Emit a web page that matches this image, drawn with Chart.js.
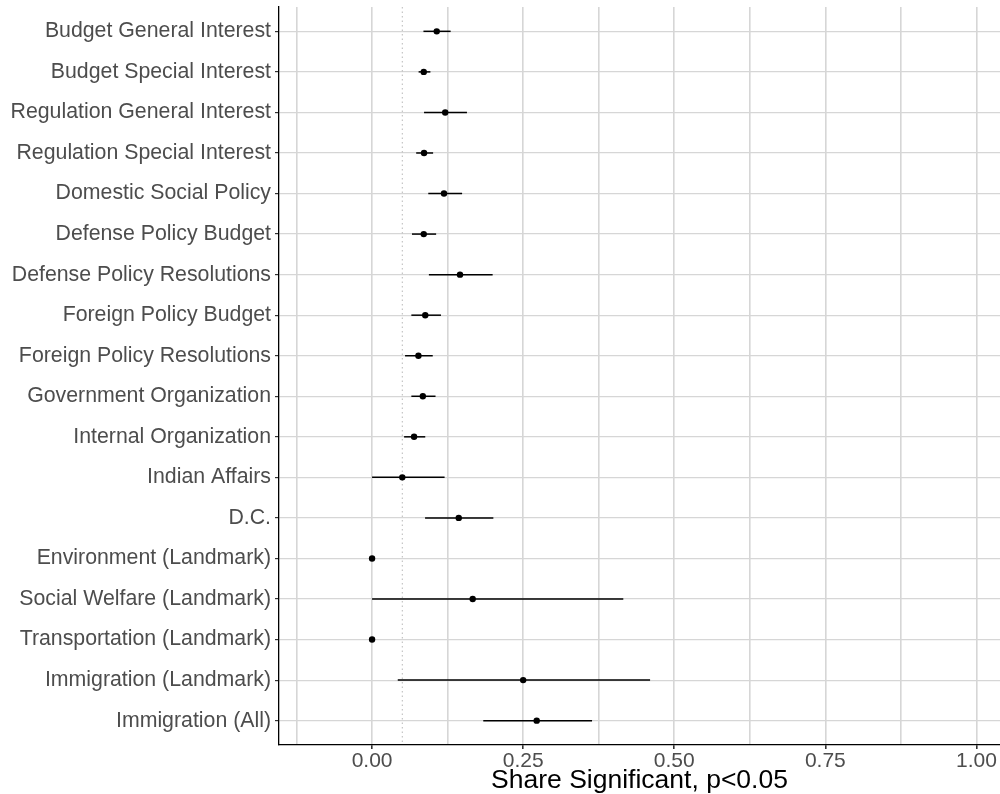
<!DOCTYPE html>
<html>
<head>
<meta charset="utf-8">
<script src="https://cdn.jsdelivr.net/npm/chart.js@4"></script>
<style>
  body { margin: 0; background: #fff; }
  #wrap { width: 1000px; height: 794px; }
</style>
</head>
<body>
<div id="wrap"><canvas id="myChart"></canvas></div>
<script>
const categories = [
  'Budget General Interest', 'Budget Special Interest', 'Regulation General Interest',
  'Regulation Special Interest', 'Domestic Social Policy', 'Defense Policy Budget',
  'Defense Policy Resolutions', 'Foreign Policy Budget', 'Foreign Policy Resolutions',
  'Government Organization', 'Internal Organization', 'Indian Affairs', 'D.C.',
  'Environment (Landmark)', 'Social Welfare (Landmark)', 'Transportation (Landmark)',
  'Immigration (Landmark)', 'Immigration (All)'
];
const share = [0.107, 0.0855, 0.121, 0.086, 0.119, 0.0855, 0.1455, 0.088, 0.0767,
  0.084, 0.0695, 0.05, 0.1434, 0, 0.1665, 0, 0.25, 0.2724];
const lower = [0.085, 0.077, 0.086, 0.073, 0.093, 0.066, 0.094, 0.065, 0.0546,
  0.065, 0.053, 0, 0.0877, 0, 0, 0, 0.0425, 0.184];
const upper = [0.130, 0.0965, 0.157, 0.101, 0.149, 0.106, 0.1995, 0.114, 0.1004,
  0.105, 0.088, 0.12, 0.2007, 0, 0.4157, 0, 0.46, 0.364];

const xTickValues = [0, 0.25, 0.5, 0.75, 1];
const xTickLabels = ['0.00', '0.25', '0.50', '0.75', '1.00'];
const xMinorValues = [-0.125, 0.125, 0.375, 0.625, 0.875];
const threshold = 0.05;

Chart.defaults.font.family = '"Liberation Sans", Arial, sans-serif';

// one little line per row for the interval
const barSets = categories.map((c, i) => ({
  data: [{ x: lower[i], y: i }, { x: upper[i], y: i }],
  showLine: true,
  borderColor: '#000',
  borderWidth: 1.5,
  pointRadius: 0,
  order: 2
}));

const ctx = document.getElementById('myChart');

new Chart(ctx, {
  type: 'scatter',
  data: {
    datasets: [
      {
        data: [{ x: threshold, y: -0.6 }, { x: threshold, y: 17.6 }],
        showLine: true,
        borderColor: '#b8b8b8',
        borderWidth: 1,
        borderDash: [1.5, 3],
        pointRadius: 0,
        order: 3
      },
      ...barSets,
      {
        data: categories.map((c, i) => ({ x: share[i], y: i })),
        backgroundColor: '#000',
        borderColor: '#000',
        pointRadius: 3.2,
        borderWidth: 0,
        order: 1
      }
    ]
  },
  options: {
    responsive: true,
    maintainAspectRatio: false,
    animation: false,
    layout: { autoPadding: false, padding: { top: 7, right: 0, left: 0, bottom: 0 } },
    plugins: { legend: { display: false }, tooltip: { enabled: false } },
    scales: {
      x: {
        type: 'linear',
        min: -0.154,
        max: 1.039,
        afterBuildTicks: (scale) => {
          scale.ticks = xMinorValues.concat(xTickValues).sort((a, b) => a - b).map(v => ({ value: v }));
        },
        afterFit: (scale) => {
          scale.height = 49;
          scale.paddingLeft = 0;
          scale.paddingRight = 0;
        },
        ticks: {
          autoSkip: false,
          maxRotation: 0,
          padding: 2,
          color: '#4d4d4d',
          font: { size: 21, lineHeight: 1 },
          callback: (value) => {
            const k = xTickValues.findIndex(v => Math.abs(v - value) < 1e-9);
            return k >= 0 ? xTickLabels[k] : '';
          }
        },
        grid: {
          color: '#d6d6d6',
          lineWidth: 1.6,
          tickLength: 4,
          tickColor: (c) => xTickValues.some(v => Math.abs(v - c.tick.value) < 1e-9) ? '#333' : 'rgba(0,0,0,0)'
        },
        border: { display: true, color: '#000', width: 1.3 },
        title: {
          display: true,
          text: 'Share Significant, p<0.05',
          color: '#000',
          font: { size: 26.5, lineHeight: 1 },
          padding: { top: 0, bottom: 0 }
        }
      },
      y: {
        type: 'linear',
        reverse: true,
        min: -0.6,
        max: 17.6,
        afterBuildTicks: (scale) => {
          scale.ticks = categories.map((c, i) => ({ value: i }));
        },
        afterFit: (scale) => {
          scale.width = 279;
          scale.paddingTop = 0;
          scale.paddingBottom = 0;
        },
        ticks: {
          autoSkip: false,
          padding: 4,
          color: '#4d4d4d',
          font: { size: 21.3 },
          callback: (value) => categories[value]
        },
        grid: {
          color: '#d6d6d6',
          lineWidth: 1.2,
          tickLength: 4,
          tickColor: '#333'
        },
        border: { display: true, color: '#000', width: 1.3 }
      }
    }
  }
});
</script>
</body>
</html>
